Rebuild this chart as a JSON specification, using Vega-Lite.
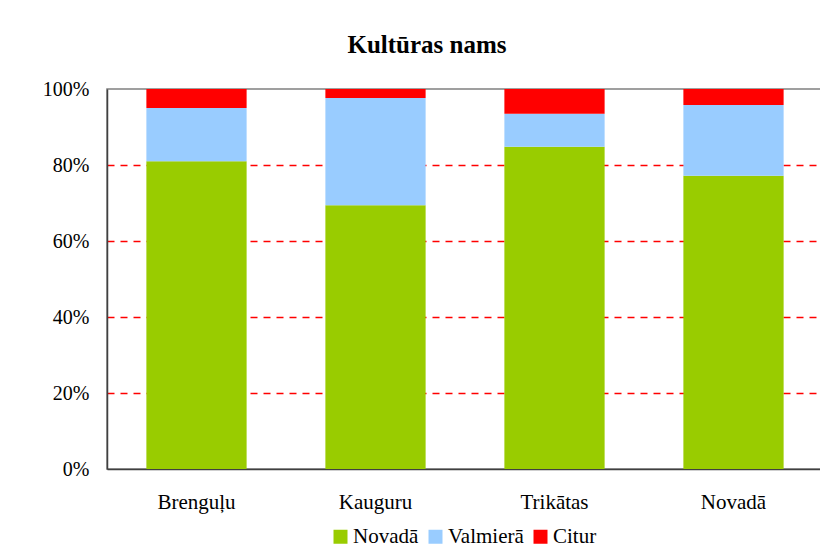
{
  "$schema": "https://vega.github.io/schema/vega-lite/v6.json",
  "autosize": "none",
  "width": 716,
  "height": 380,
  "padding": {"left": 107, "top": 89, "right": 0, "bottom": 81},
  "background": "white",
  "title": {
    "text": "Kultūras nams",
    "font": "Liberation Serif",
    "fontSize": 25,
    "fontWeight": "bold",
    "color": "black",
    "anchor": "middle",
    "dx": -38,
    "offset": 21
  },
  "data": {
    "values": [
      {"vieta": "Brenguļu", "grupa": "Novadā", "ord": 1, "v": 0.81},
      {"vieta": "Brenguļu", "grupa": "Valmierā", "ord": 2, "v": 0.14},
      {"vieta": "Brenguļu", "grupa": "Citur", "ord": 3, "v": 0.05},
      {"vieta": "Kauguru", "grupa": "Novadā", "ord": 1, "v": 0.694},
      {"vieta": "Kauguru", "grupa": "Valmierā", "ord": 2, "v": 0.282},
      {"vieta": "Kauguru", "grupa": "Citur", "ord": 3, "v": 0.024},
      {"vieta": "Trikātas", "grupa": "Novadā", "ord": 1, "v": 0.848},
      {"vieta": "Trikātas", "grupa": "Valmierā", "ord": 2, "v": 0.087},
      {"vieta": "Trikātas", "grupa": "Citur", "ord": 3, "v": 0.065},
      {"vieta": "Novadā", "grupa": "Novadā", "ord": 1, "v": 0.772},
      {"vieta": "Novadā", "grupa": "Valmierā", "ord": 2, "v": 0.186},
      {"vieta": "Novadā", "grupa": "Citur", "ord": 3, "v": 0.042}
    ]
  },
  "mark": {"type": "bar"},
  "encoding": {
    "x": {
      "field": "vieta",
      "type": "nominal",
      "sort": ["Brenguļu", "Kauguru", "Trikātas", "Novadā"],
      "scale": {"paddingInner": 0.44, "paddingOuter": 0.22},
      "axis": {
        "title": null,
        "labelAngle": 0,
        "ticks": false,
        "labelPadding": 22,
        "labelFont": "Liberation Serif",
        "labelFontSize": 21,
        "labelColor": "black",
        "domainColor": "#404040",
        "domainWidth": 1.5
      }
    },
    "y": {
      "field": "v",
      "type": "quantitative",
      "stack": "zero",
      "scale": {"domain": [0, 1], "nice": false},
      "axis": {
        "title": null,
        "values": [0, 0.2, 0.4, 0.6, 0.8, 1],
        "format": ".0%",
        "ticks": false,
        "labelPadding": 18,
        "labelFont": "Liberation Serif",
        "labelFontSize": 20,
        "labelColor": "black",
        "domainColor": "#404040",
        "domainWidth": 1.5,
        "grid": true,
        "gridColor": "#FF0000",
        "gridOpacity": {"condition": {"test": "datum.value >= 1 || datum.value <= 0", "value": 0}, "value": 1},
        "gridDash": [7, 6],
        "gridWidth": 1.6
      }
    },
    "color": {
      "field": "grupa",
      "type": "nominal",
      "scale": {"domain": ["Novadā", "Valmierā", "Citur"], "range": ["#99CC00", "#99CCFF", "#FF0000"]},
      "legend": {
        "title": null,
        "orient": "none",
        "legendX": 223,
        "legendY": 437,
        "direction": "horizontal",
        "symbolType": "square",
        "symbolSize": 196,
        "symbolStrokeWidth": 0,
        "labelFont": "Liberation Serif",
        "labelFontSize": 21,
        "labelColor": "black",
        "labelOffset": 2,
        "columnPadding": 6
      }
    },
    "order": {"field": "ord", "type": "quantitative", "sort": "ascending"}
  },
  "config": {
    "font": "Liberation Serif",
    "view": {"stroke": "#808080", "strokeWidth": 1.5}
  }
}
